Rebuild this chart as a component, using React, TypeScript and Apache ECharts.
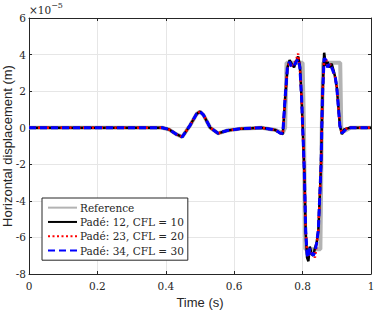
import React, { useEffect, useRef } from "react";
import * as echarts from "echarts";

const xTicks = [0, 0.2, 0.4, 0.6, 0.8, 1];
const yTicks = [-8, -6, -4, -2, 0, 2, 4, 6];

const seriesNames = ["Reference", "Padé: 12, CFL = 10", "Padé: 23, CFL = 20", "Padé: 34, CFL = 30"];

const timeRef = [0, 0.39, 0.41, 0.43, 0.448, 0.47, 0.49, 0.5, 0.51, 0.53, 0.553, 0.58, 0.62, 0.68, 0.72, 0.742, 0.749, 0.753, 0.8, 0.804, 0.808, 0.852, 0.856, 0.86, 0.91, 0.913, 0.92, 0.94, 1];
const valueRef = [0, 0, -0.1, -0.35, -0.5, 0.1, 0.75, 0.88, 0.7, 0, -0.31, -0.15, -0.05, 0, -0.12, -0.3, 0, 3.55, 3.55, 0, -6.65, -6.65, 0, 3.55, 3.55, 0, -0.2, 0, 0];

const timeSim = [0, 0.39, 0.41, 0.43, 0.448, 0.47, 0.49, 0.5, 0.51, 0.53, 0.553, 0.58, 0.62, 0.68, 0.72, 0.735, 0.742, 0.749, 0.756, 0.762, 0.768, 0.775, 0.781, 0.787, 0.792, 0.797, 0.805, 0.809, 0.813, 0.817, 0.821, 0.826, 0.831, 0.836, 0.841, 0.846, 0.854, 0.858, 0.863, 0.868, 0.873, 0.879, 0.885, 0.891, 0.896, 0.9, 0.909, 0.915, 0.921, 0.928, 0.94, 1];
const valueBlack = [0, 0, -0.1, -0.35, -0.5, 0.1, 0.75, 0.88, 0.7, 0, -0.31, -0.15, -0.05, 0, -0.12, -0.3, -0.35, 1.6, 3.3, 3.7, 3.5, 3.3, 3.6, 3.9, 3.4, 1.6, -2.4, -5.7, -7.1, -7.3, -6.5, -6.9, -7.0, -6.6, -6.3, -5.6, -2.0, 1.7, 4.1, 3.4, 3.6, 3.3, 3.5, 3.1, 2.7, 2.2, 0.1, -0.35, -0.1, -0.05, 0, 0];
const valueRed = [0, 0, -0.1, -0.35, -0.5, 0.1, 0.75, 0.88, 0.7, 0, -0.31, -0.15, -0.05, 0, -0.12, -0.3, -0.33, 1.65, 3.4, 3.5, 3.4, 3.5, 3.7, 4.05, 3.3, 1.65, -2.35, -5.6, -6.8, -7.0, -6.7, -6.9, -6.8, -7.1, -6.4, -5.6, -2.0, 1.65, 3.7, 3.8, 3.4, 3.5, 3.3, 3.0, 2.7, 2.2, 0.1, -0.3, -0.2, -0.05, 0, 0];
const valueBlue = [0, 0, -0.1, -0.35, -0.5, 0.1, 0.75, 0.88, 0.7, 0, -0.31, -0.15, -0.05, 0, -0.12, -0.3, -0.3, 1.65, 3.4, 3.6, 3.3, 3.4, 3.6, 3.75, 3.3, 1.65, -2.35, -5.6, -6.9, -7.1, -6.6, -6.8, -7.0, -6.8, -6.3, -5.6, -2.0, 1.65, 3.8, 3.7, 3.3, 3.5, 3.3, 3.0, 2.7, 2.2, 0.1, -0.3, -0.2, -0.05, 0, 0];

const zip = (t: number[], v: number[]) => t.map((x, i) => [x, v[i]]);

const serif = "'DejaVu Serif', 'Liberation Serif', serif";
const sans = "'Liberation Sans', Arial, sans-serif";

export default function App() {
  const ref = useRef<HTMLDivElement>(null);
  useEffect(() => {
    if (!ref.current) return;
    const chart = echarts.init(ref.current, undefined, { renderer: "svg" });
    const axisLine = { show: true, onZero: false, lineStyle: { color: "#262626", width: 1 } };
    const tick = { show: true, inside: true, length: 3, lineStyle: { color: "#262626" } };
    chart.setOption({
      animation: false,
      backgroundColor: "#ffffff",
      grid: { left: 29, top: 18, right: 3, bottom: 36, containLabel: false, outerBoundsMode: "none" },
      graphic: [
        {
          type: "text",
          left: 29,
          top: 1,
          style: {
            text: "{a|×10}{b|−5}",
            rich: {
              a: { fontFamily: serif, fontSize: 10.5, fill: "#262626", verticalAlign: "bottom", lineHeight: 14 },
              b: { fontFamily: serif, fontSize: 8, fill: "#262626", verticalAlign: "top", padding: [0, 0, 6, 0], lineHeight: 14 },
            },
          },
        },
      ],
      legend: {
        orient: "vertical",
        left: 42,
        top: 198,
        padding: [2.5, 4, 2.5, 5],
        itemWidth: 29,
        itemHeight: 12,
        itemGap: 0,
        backgroundColor: "#ffffff",
        borderColor: "#262626",
        borderWidth: 1,
        borderRadius: 0,
        itemStyle: { opacity: 0 },
        textStyle: { fontFamily: serif, fontSize: 10.5, lineHeight: 14.3, color: "#262626", padding: [0, 0, 0, -2] },
        data: seriesNames,
      },
      xAxis: [
        {
          type: "value",
          min: 0,
          max: 1,
          interval: 0.2,
          position: "bottom",
          name: "Time (s)",
          nameLocation: "middle",
          nameGap: 20,
          nameTextStyle: { fontFamily: sans, fontSize: 13, color: "#262626" },
          axisLine,
          axisTick: tick,
          axisLabel: { fontFamily: serif, fontSize: 10.5, color: "#262626", margin: 6, formatter: (v: number) => String(Number(v.toFixed(1))) },
          splitLine: { show: true, lineStyle: { color: "#e6e6e6", width: 1 } },
        },
        {
          type: "value",
          min: 0,
          max: 1,
          interval: 0.2,
          position: "top",
          axisLine,
          axisTick: tick,
          axisLabel: { show: false },
          splitLine: { show: false },
        },
      ],
      yAxis: [
        {
          type: "value",
          min: -8,
          max: 6,
          interval: 2,
          position: "left",
          name: "Horizontal displacement (m)",
          nameLocation: "middle",
          nameGap: 15,
          nameMoveOverlap: false,
          nameTextStyle: { fontFamily: sans, fontSize: 13, color: "#262626" },
          axisLine,
          axisTick: tick,
          axisLabel: { fontFamily: serif, fontSize: 10.5, color: "#262626", margin: 3 },
          splitLine: { show: true, lineStyle: { color: "#e6e6e6", width: 1 } },
        },
        {
          type: "value",
          min: -8,
          max: 6,
          interval: 2,
          position: "right",
          axisLine,
          axisTick: tick,
          axisLabel: { show: false },
          splitLine: { show: false },
        },
      ],
      series: [
        {
          name: seriesNames[0],
          type: "line",
          symbol: "none",
          data: zip(timeRef, valueRef),
          lineStyle: { color: "#b3b3b3", width: 4 },
          itemStyle: { color: "#b3b3b3" },
        },
        {
          name: seriesNames[1],
          type: "line",
          symbol: "none",
          data: zip(timeSim, valueBlack),
          lineStyle: { color: "#000000", width: 2.5 },
          itemStyle: { color: "#000000" },
        },
        {
          name: seriesNames[2],
          type: "line",
          symbol: "none",
          data: zip(timeSim, valueRed),
          lineStyle: { color: "#ff0000", width: 2.5, type: [2, 2.5] },
          itemStyle: { color: "#ff0000" },
        },
        {
          name: seriesNames[3],
          type: "line",
          symbol: "none",
          data: zip(timeSim, valueBlue),
          lineStyle: { color: "#0000ff", width: 3, type: [7, 4] },
          itemStyle: { color: "#0000ff" },
        },
      ],
    });
    return () => chart.dispose();
  }, []);
  return <div ref={ref} style={{ position: "fixed", left: 0, top: 0, width: 374, height: 310 }} />;
}
